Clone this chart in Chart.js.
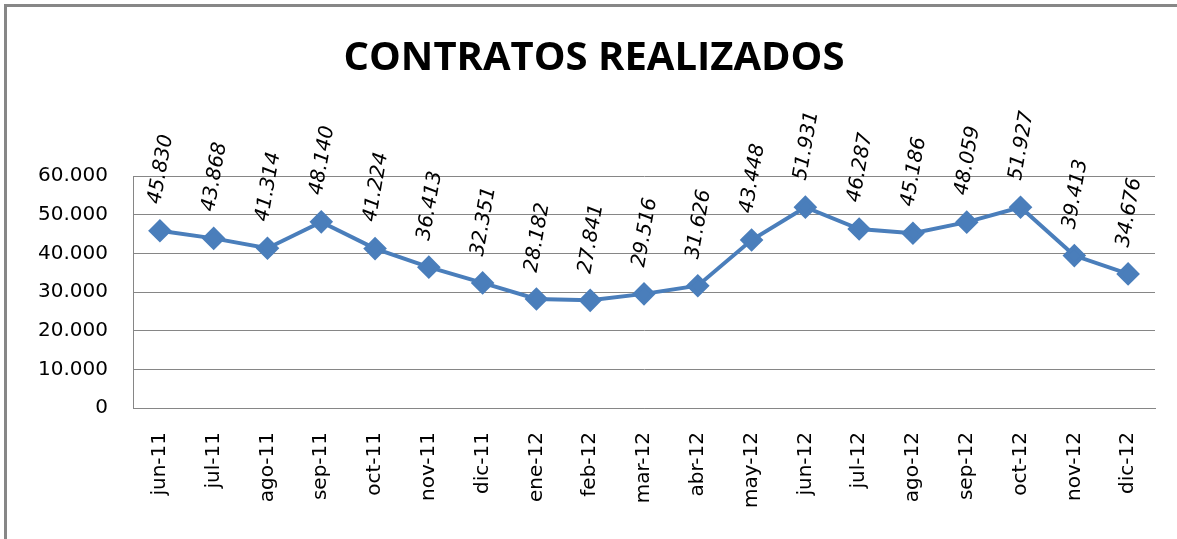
<!DOCTYPE html>
<html>
<head>
<meta charset="utf-8">
<script src="https://cdn.jsdelivr.net/npm/chart.js@4.4.1/dist/chart.umd.min.js"></script>
<style>
  body { margin: 0; background: #fff; }
  #wrap { position: relative; width: 1177px; height: 539px; overflow: hidden; }
  #frame {
    position: absolute; left: 4px; top: 4px; width: 1400px; height: 800px;
    border-left: 3px solid #878787; border-top: 3px solid #878787;
    pointer-events: none;
  }
</style>
</head>
<body>
<div id="wrap">
  <canvas id="myChart" width="1177" height="539"></canvas>
  <div id="frame"></div>
</div>
<script>
// datos del grafico
const meses = ['jun-11', 'jul-11', 'ago-11', 'sep-11', 'oct-11', 'nov-11', 'dic-11', 'ene-12', 'feb-12',
  'mar-12', 'abr-12', 'may-12', 'jun-12', 'jul-12', 'ago-12', 'sep-12', 'oct-12', 'nov-12', 'dic-12']
const contratos = [45830, 43868, 41314, 48140, 41224, 36413, 32351, 28182, 27841,
  29516, 31626, 43448, 51931, 46287, 45186, 48059, 51927, 39413, 34676]
const ticksY = [0, 10000, 20000, 30000, 40000, 50000, 60000]

const azul = '#4A7EBB'
const fuenteTitulo = "'Open Sans', 'DejaVu Sans', sans-serif"
const fuente = "'DejaVu Sans', sans-serif"

// 60000 -> 60.000
function miles(n) {
  return String(n).replace(/\B(?=(\d{3})+(?!\d))/g, '.')
}

// etiquetas de datos giradas sobre cada punto
const etiquetas = {
  id: 'etiquetas',
  afterDatasetsDraw(chart) {
    let ctx = chart.ctx
    let meta = chart.getDatasetMeta(0)
    ctx.save()
    ctx.font = 'italic 20px ' + fuente
    ctx.fillStyle = '#000'
    ctx.textAlign = 'left'
    ctx.textBaseline = 'middle'
    meta.data.forEach((pt, i) => {
      ctx.save()
      ctx.translate(pt.x - 5, pt.y - 27)
      ctx.rotate(-80 * Math.PI / 180)
      ctx.fillText(miles(contratos[i]), 0, 0)
      ctx.restore()
    })
    ctx.restore()
  }
}

let myChart = document.querySelector('#myChart')

new Chart(myChart, {
  type: 'line',
  data: {
    labels: meses,
    datasets: [{
      label: 'Contratos',
      data: contratos,
      borderColor: azul,
      backgroundColor: azul,
      borderWidth: 4,
      pointStyle: 'rectRot',
      pointRadius: 9,
      pointHoverRadius: 9,
      tension: 0
    }]
  },
  options: {
    responsive: false,
    animation: false,
    layout: { padding: { left: 33, right: 22, top: 0, bottom: 0 } },
    plugins: {
      legend: { display: false },
      tooltip: { enabled: false },
      title: {
        display: true,
        text: 'CONTRATOS REALIZADOS',
        color: '#000',
        font: { family: fuenteTitulo, size: 40, weight: 'bold', lineHeight: 1.2 },
        padding: { top: 35, bottom: 93 }
      }
    },
    scales: {
      x: {
        offset: true,
        grid: { display: false, drawTicks: false },
        border: { display: true, color: '#868686', width: 1 },
        ticks: {
          color: '#000',
          font: { family: fuente, size: 20 },
          minRotation: 90,
          maxRotation: 90,
          padding: 24,
          autoSkip: false
        },
        afterFit(scale) { scale.height = 131 }
      },
      y: {
        min: 0,
        max: 60000,
        afterBuildTicks(scale) { scale.ticks = ticksY.map(v => ({ value: v })) },
        grid: { color: '#868686', lineWidth: 1, drawTicks: false },
        border: { display: true, color: '#868686', width: 1 },
        ticks: {
          color: '#000',
          font: { family: fuente, size: 20 },
          padding: 25,
          callback: v => miles(v)
        },
        afterFit(scale) { scale.width = 100 }
      }
    }
  },
  plugins: [etiquetas]
})
</script>
</body>
</html>
